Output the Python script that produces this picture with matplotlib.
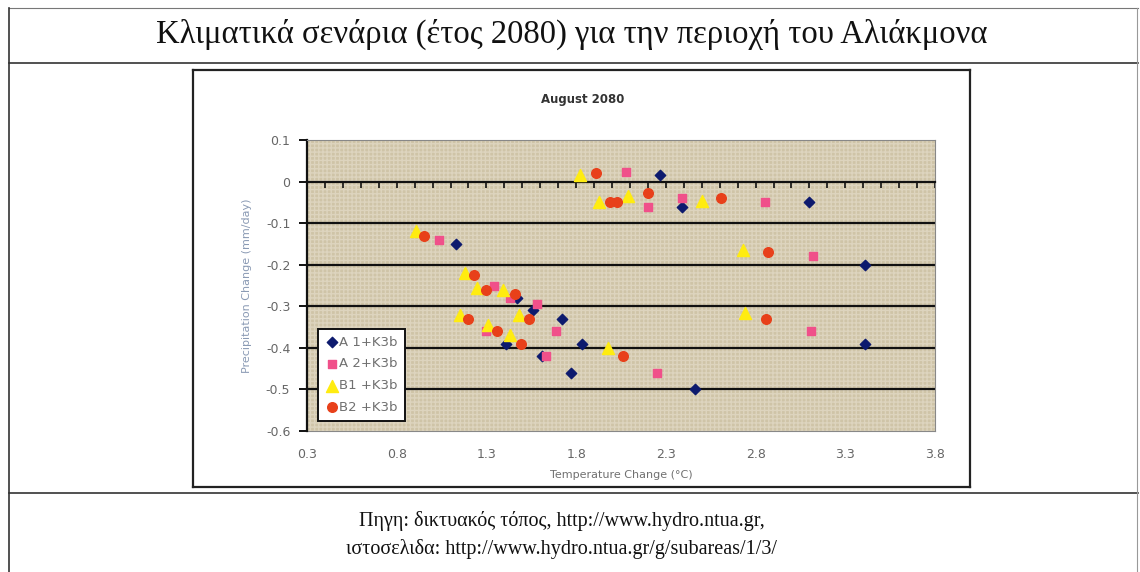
import matplotlib
matplotlib.use('Agg')
import matplotlib.pyplot as plt
from matplotlib.lines import Line2D
import numpy as np

# values
a1_x = [1.13, 1.47, 1.56, 1.72, 1.41, 1.61, 1.77, 1.83, 2.27, 2.39, 2.46, 3.10, 3.41, 3.41]
a1_y = [-0.15, -0.28, -0.31, -0.33, -0.39, -0.42, -0.46, -0.39, 0.015, -0.06, -0.50, -0.05, -0.20, -0.39]

a2_x = [1.035, 1.34, 1.43, 1.58, 1.30, 1.69, 1.63, 2.08, 2.20, 2.39, 2.25, 2.85, 3.12, 3.11]
a2_y = [-0.14, -0.25, -0.28, -0.295, -0.36, -0.36, -0.42, 0.024, -0.06, -0.04, -0.46, -0.05, -0.18, -0.36]

b1_x = [0.91, 1.18, 1.25, 1.39, 1.15, 1.31, 1.48, 1.43, 1.82, 1.93, 2.09, 2.50, 1.98, 2.73, 2.74]
b1_y = [-0.12, -0.22, -0.255, -0.26, -0.32, -0.345, -0.32, -0.37, 0.015, -0.05, -0.035, -0.046, -0.40, -0.165, -0.315]

b2_x = [0.95, 1.23, 1.30, 1.46, 1.20, 1.36, 1.54, 1.49, 1.91, 1.99, 2.03, 2.20, 2.61, 2.06, 2.87, 2.86]
b2_y = [-0.13, -0.225, -0.26, -0.27, -0.33, -0.36, -0.33, -0.39, 0.02, -0.05, -0.05, -0.028, -0.04, -0.42, -0.17, -0.33]

x_ticks = [0.3, 0.8, 1.3, 1.8, 2.3, 2.8, 3.3, 3.8]
y_ticks = [0.1, 0, -0.1, -0.2, -0.3, -0.4, -0.5, -0.6]
y_labels = ['0.1', '0', '-0.1', '-0.2', '-0.3', '-0.4', '-0.5', '-0.6']

title = 'Κλιματικά σενάρια (έτος 2080) για την περιοχή του Αλιάκμονα'
caption1 = 'Πηγη: δικτυακός τόπος, http://www.hydro.ntua.gr,'
caption2 = 'ιστοσελιδα: http://www.hydro.ntua.gr/g/subareas/1/3/'

W, H = 1140, 572
fig = plt.figure(figsize=(W / 100, H / 100), dpi=100)
fig.patch.set_facecolor('white')


def px(x, y):
    return x / W, 1 - y / H


# outer table lines
def hline(y, x0, x1, lw=1.2, c='#333333'):
    fig.add_artist(Line2D([x0 / W, x1 / W], [1 - y / H, 1 - y / H], color=c, lw=lw))


def vline(x, y0, y1, lw=1.2, c='#333333'):
    fig.add_artist(Line2D([x / W, x / W], [1 - y0 / H, 1 - y1 / H], color=c, lw=lw))


hline(8, 9, 1138, lw=0.8, c='#777777')
hline(63, 9, 1138)
hline(493, 9, 1138)
vline(9, 8, 572)
vline(1137, 8, 572, lw=0.8, c='#999999')

# chart object border
hline(70, 193, 970, lw=1.6, c='#222222')
hline(487, 193, 970, lw=1.6, c='#222222')
vline(193, 70, 487, lw=1.6, c='#222222')
vline(970, 70, 487, lw=1.6, c='#222222')

serif = ['Liberation Serif', 'DejaVu Serif']
fig.text(*px(572, 34), title, ha='center', va='center', fontsize=23.5, family=serif, color='#111111')
fig.text(*px(562, 521), caption1, ha='center', va='center', fontsize=14.5, family=serif, color='#111111')
fig.text(*px(562, 549), caption2, ha='center', va='center', fontsize=14.5, family=serif, color='#111111')

fig.text(*px(583, 100), 'August 2080', ha='center', va='center', fontsize=8.5,
         fontweight='bold', family='DejaVu Sans', color='#333333')

# plot area
ax = fig.add_axes([307 / W, 1 - 431 / H, 628 / W, 291 / H])
ax.set_xlim(0.3, 3.8)
ax.set_ylim(-0.6, 0.1)
ax.patch.set_facecolor('#cfc4a7')
ax.patch.set_hatch('++++')
ax.patch.set_edgecolor('#ddd4be')
ax.patch.set_linewidth(0)

for y in y_ticks[2:-1]:
    ax.axhline(y, color='#111111', lw=1.6, zorder=1)

ax.scatter(a1_x, a1_y, marker='D', s=28, color='#0d1a6e', zorder=3, label='A 1+K3b')
ax.scatter(a2_x, a2_y, marker='s', s=26, color='#f0508a', zorder=3, label='A 2+K3b')
ax.scatter(b1_x, b1_y, marker='^', s=75, color='#ffec10', zorder=3, label='B1 +K3b')
ax.scatter(b2_x, b2_y, marker='o', s=48, color='#e8401a', zorder=3, label='B2 +K3b')

# category axis crossing at zero with small ticks
ax.spines['bottom'].set_position(('data', 0))
ax.spines['bottom'].set_color('#111111')
ax.spines['bottom'].set_linewidth(1.6)
ax.set_xticks(x_ticks)
ax.set_xticks(np.arange(0.4, 3.8, 0.1), minor=True)
ax.tick_params(axis='x', which='both', direction='out', length=4, width=1.2,
               color='#111111', labelbottom=False)
ax.spines['left'].set_color('#111111')
ax.spines['left'].set_linewidth(1.6)
ax.spines['top'].set_color('#888888')
ax.spines['top'].set_linewidth(0.8)
ax.spines['right'].set_color('#888888')
ax.spines['right'].set_linewidth(0.8)

ax.set_yticks(y_ticks)
ax.set_yticklabels(y_labels)
ax.tick_params(axis='y', direction='out', length=6, width=1.4, color='#111111',
               labelsize=9, labelcolor='#666666', pad=6)

# labels at the bottom of the plot area
sec = ax.secondary_xaxis('bottom')
sec.set_xticks(x_ticks)
sec.set_xticklabels([f'{v:.1f}' for v in x_ticks])
sec.tick_params(length=0, labelsize=9, labelcolor='#666666', pad=12)
sec.spines['bottom'].set_color('#888888')
sec.spines['bottom'].set_linewidth(0.8)
sec.set_xlabel('Temperature Change (°C)', fontsize=8, color='#707070', labelpad=7)

ax.set_ylabel('Precipitation Change (mm/day)', fontsize=8, color='#8a9ab4', labelpad=10)

leg = ax.legend(loc='lower left', bbox_to_anchor=(0.0175, 0.035), borderaxespad=0,
                frameon=True, fancybox=False, fontsize=9.5, handletextpad=0.05,
                handlelength=1.0, labelspacing=0.65, borderpad=0.55)
leg.get_frame().set_edgecolor('#111111')
leg.get_frame().set_linewidth(1.4)
leg.get_frame().set_alpha(1)
for t in leg.get_texts():
    t.set_color('#707070')

fig.savefig('out.png', dpi=100)
